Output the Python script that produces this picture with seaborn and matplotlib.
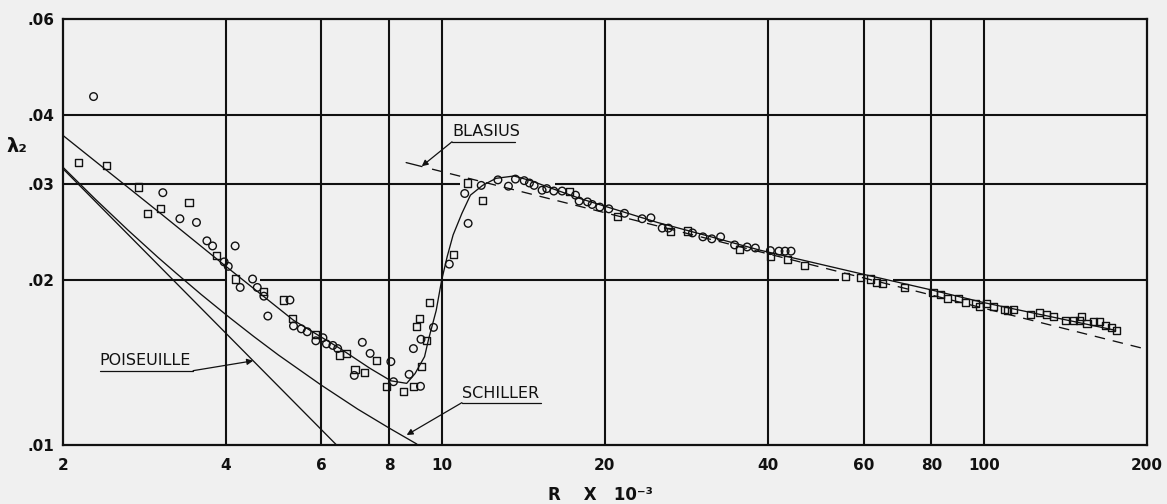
import numpy as np
import pandas as pd
import matplotlib
matplotlib.use("Agg")
import matplotlib.pyplot as plt
import seaborn as sns

# ---- measured friction factors -------------------------------------------
circle_r = [2.28, 3.06, 3.29, 3.53, 3.69, 3.78, 4.16, 3.97, 4.04, 4.25, 4.48,
            4.57, 4.70, 4.78, 5.25, 5.33, 5.51, 5.65, 5.86, 6.04, 6.13, 6.30,
            6.43, 7.14, 6.90, 7.38, 8.06, 8.15, 8.71, 9.14, 8.87, 9.16, 9.66,
            10.33, 11.03, 11.19, 11.83, 12.7, 13.28, 13.68, 14.2, 14.52, 14.81,
            15.32, 15.63, 16.1, 16.68, 17.66, 17.93, 18.58, 18.95, 19.58,
            20.34, 21.74, 23.43, 24.32, 25.52, 26.2, 29.02, 30.33, 31.5, 32.7,
            34.7, 36.6, 37.9, 40.4, 41.9, 43.0, 44.1]
circle_lam = [0.0433, 0.0289, 0.0259, 0.0255, 0.0236, 0.0231, 0.0231, 0.0216,
              0.0212, 0.0194, 0.0201, 0.0194, 0.0187, 0.0172, 0.0184, 0.0165,
              0.0163, 0.0161, 0.0155, 0.0157, 0.0153, 0.0152, 0.0150, 0.0154,
              0.0134, 0.0147, 0.0142, 0.01305, 0.01346, 0.0128, 0.0150,
              0.0156, 0.0164, 0.0214, 0.0288, 0.0254, 0.0298, 0.0305, 0.0297,
              0.0306, 0.0304, 0.0301, 0.0298, 0.0292, 0.0294, 0.0291, 0.0291,
              0.0286, 0.0279, 0.0278, 0.0275, 0.0272, 0.0270, 0.0265, 0.0259,
              0.0260, 0.0249, 0.0249, 0.0244, 0.0240, 0.0238, 0.0240, 0.0232,
              0.0230, 0.0229, 0.02265, 0.0226, 0.0226, 0.0226]

square_r = [2.14, 2.41, 2.76, 2.87, 3.03, 3.42, 3.85, 4.16, 4.69, 5.11, 5.31,
            5.86, 6.48, 6.68, 6.92, 7.22, 7.59, 7.92, 8.52, 8.87, 9.17, 9.36,
            9.0, 9.12, 9.48, 10.51, 11.16, 11.91, 17.2, 21.1, 26.4, 28.46,
            35.4, 40.4, 43.4, 46.7, 55.6, 59.3, 61.7, 63.3, 65.1, 71.3, 80.6,
            83.2, 85.6, 89.7, 92.4, 96.4, 98.2, 101.0, 104.2, 109.0, 110.7,
            113.5, 121.8, 126.7, 130.4, 134.5, 141.5, 146.4, 150.0, 151.7,
            155.0, 159.4, 163.5, 167.7, 171.8, 175.6]
square_lam = [0.0328, 0.0324, 0.0296, 0.0265, 0.0270, 0.0277, 0.0222, 0.0201,
              0.0191, 0.0184, 0.0170, 0.0159, 0.0146, 0.0147, 0.01375,
              0.01355, 0.01425, 0.0128, 0.0125, 0.0128, 0.0139, 0.0155,
              0.01645, 0.0170, 0.0182, 0.0223, 0.0301, 0.0280, 0.0291, 0.0261,
              0.0245, 0.0246, 0.0228, 0.0221, 0.0218, 0.0213, 0.0203, 0.02025,
              0.0201, 0.0198, 0.0197, 0.0194, 0.0190, 0.0188, 0.0185, 0.0185,
              0.0182, 0.0181, 0.0179, 0.0181, 0.0179, 0.0177, 0.0176, 0.0177,
              0.0173, 0.01745, 0.0173, 0.01716, 0.0169, 0.01685, 0.01685,
              0.01716, 0.0167, 0.0168, 0.0168, 0.0165, 0.0164, 0.0162]

# ---- faired curve through the measurements --------------------------------
fair_r = [2.0, 3.0, 4.0, 5.33, 6.5, 7.38, 8.06, 8.62, 8.93, 9.3, 9.46, 9.77,
          10.0, 10.24, 10.5, 10.9, 11.3, 11.9, 12.6, 13.6, 14.6, 16.0, 18.0,
          20.0, 25.0, 30.0, 38.6, 60.0, 80.0, 100.0, 175.0]
fair_lam = [0.0368, 0.0267, 0.0212, 0.0169, 0.0150, 0.0138, 0.0131, 0.01296,
            0.0135, 0.0145, 0.0156, 0.0176, 0.0200, 0.0221, 0.0242, 0.0265,
            0.0286, 0.0298, 0.0307, 0.0310, 0.0304, 0.0294, 0.0282, 0.0273,
            0.0255, 0.0243, 0.0227, 0.0205, 0.0192, 0.0182, 0.0162]

# ---- reference laws --------------------------------------------------------
poiseuille_r = [2.0, 6.4]
poiseuille_lam = [0.032, 0.010]

schiller_r = [2.0, 2.3, 2.64, 3.0, 3.24, 3.6, 4.06, 4.5, 5.0, 6.0, 7.0, 8.0,
              9.0]
schiller_lam = [0.03220, 0.02809, 0.02468, 0.02200, 0.02059, 0.01884,
                0.01710, 0.01579, 0.01460, 0.01286, 0.01163, 0.01074,
                0.01004]

blasius_r = [8.6, 200.0]
blasius_lam = [0.0328, 0.01495]

x_ticks = [2, 4, 6, 8, 10, 20, 40, 60, 80, 100, 200]
x_tick_labels = ["2", "4", "6", "8", "10", "20", "40", "60", "80", "100", "200"]
y_ticks = [0.01, 0.02, 0.03, 0.04, 0.06]
y_tick_labels = [".01", ".02", ".03", ".04", ".06"]

BG = "#f0f0f0"
INK = "#111111"

sns.set_theme(style="white")
plt.rcParams["font.family"] = ["DejaVu Sans"]

W, H = 1167, 504
fig = plt.figure(figsize=(W / 100, H / 100), dpi=100, facecolor=BG)
ax = fig.add_axes([62.7 / W, 1 - 445 / H, (1147 - 62.7) / W, (445 - 19) / H])
ax.set_facecolor(BG)
ax.set_xscale("log")
ax.set_yscale("log")
ax.set_xlim(2, 200)
ax.set_ylim(0.01, 0.06)


def log_interp(x_new, xs, ys):
    return 10 ** np.interp(np.log10(x_new), np.log10(xs), np.log10(ys))


# grid drawn by hand, leaving breaks where the points crowd the rules
grid_kw = dict(color=INK, lw=1.5, zorder=1, solid_capstyle="butt")
h_rules = {0.02: [(4.0, 4.62), (54.0, 68.1)], 0.03: [(10.8, 16.2)], 0.04: []}
v_rules = {4: [], 6: [], 8: [], 10: [], 20: [], 40: [], 60: [], 80: [], 100: []}


def segments(lo, hi, gaps):
    pts = [lo]
    for a, b in gaps:
        pts += [a, b]
    pts.append(hi)
    return [(pts[i], pts[i + 1]) for i in range(0, len(pts), 2)]


for yv, gaps in h_rules.items():
    for a, b in segments(2, 200, gaps):
        ax.plot([a, b], [yv, yv], **grid_kw)
for xv, gaps in v_rules.items():
    for a, b in segments(0.01, 0.06, gaps):
        ax.plot([xv, xv], [a, b], **grid_kw)

line_kw = dict(color=INK, lw=0.95, sort=False, estimator=None, legend=False, ax=ax)

sns.lineplot(x=poiseuille_r, y=poiseuille_lam, **line_kw)
sns.lineplot(x=schiller_r, y=schiller_lam, **line_kw)
sns.lineplot(x=fair_r, y=fair_lam, **line_kw)

# Blasius: short solid stub followed by the dashed law line
stub_r = np.array([blasius_r[0], 9.2])
dash_r = np.geomspace(9.6, blasius_r[1], 50)
sns.lineplot(x=stub_r, y=log_interp(stub_r, blasius_r, blasius_lam), **line_kw)
sns.lineplot(x=dash_r, y=log_interp(dash_r, blasius_r, blasius_lam),
             linestyle=(0, (8, 6)), **line_kw)

pts_c = pd.DataFrame({"R": circle_r, "lam": circle_lam})
pts_s = pd.DataFrame({"R": square_r, "lam": square_lam})
sns.scatterplot(data=pts_c, x="R", y="lam", marker="o", s=30, ax=ax,
                legend=False, zorder=4)
ax.collections[-1].set_facecolor("none")
ax.collections[-1].set_edgecolor(INK)
ax.collections[-1].set_linewidth(1.0)
sns.scatterplot(data=pts_s, x="R", y="lam", marker="s", s=26, ax=ax,
                legend=False, zorder=4)
ax.collections[-1].set_facecolor("none")
ax.collections[-1].set_edgecolor(INK)
ax.collections[-1].set_linewidth(1.0)

# ---- labels with leaders ---------------------------------------------------
lab_kw = dict(fontsize=11.5, color=INK, ha="left", va="baseline")
arrow_kw = dict(arrowstyle="-|>", color=INK, lw=0.9, mutation_scale=9,
                shrinkA=0, shrinkB=0)
u_kw = dict(color=INK, lw=0.9)

ax.text(2.34, 0.01400, "POISEUILLE", **lab_kw)
ax.plot([2.34, 3.48], [0.01367, 0.01367], **u_kw)
ax.annotate("", xy=(4.49, 0.01425), xytext=(3.48, 0.01367), arrowprops=arrow_kw)

ax.text(10.9, 0.01220, "SCHILLER", **lab_kw)
ax.plot([10.9, 15.26], [0.01195, 0.01195], **u_kw)
ax.annotate("", xy=(8.62, 0.01043), xytext=(10.9, 0.01195), arrowprops=arrow_kw)

ax.text(10.45, 0.0367, "BLASIUS", **lab_kw)
ax.plot([10.45, 13.64], [0.0358, 0.0358], **u_kw)
ax.annotate("", xy=(9.19, 0.0323), xytext=(10.45, 0.0358), arrowprops=arrow_kw)

# ---- axes cosmetics --------------------------------------------------------
ax.set_xticks(x_ticks)
ax.set_xticklabels(x_tick_labels)
ax.set_yticks(y_ticks)
ax.set_yticklabels(y_tick_labels)
ax.minorticks_off()
ax.tick_params(axis="both", length=0, labelsize=11, labelcolor=INK)
ax.tick_params(axis="x", pad=9)
ax.tick_params(axis="y", pad=6)
for lbl in ax.get_xticklabels() + ax.get_yticklabels():
    lbl.set_fontweight("bold")
for sp in ax.spines.values():
    sp.set_color(INK)
    sp.set_linewidth(1.6)
ax.set_xlabel("")
ax.set_ylabel("")

fig.text(600 / W, 1 - 495 / H, "R    X   10\u207b\u00b3", ha="center", va="center",
         fontsize=12, fontweight="bold", color=INK)
fig.text(17 / W, 1 - 146 / H, "\u03bb\u2082", ha="center", va="center",
         fontsize=14, fontweight="bold", color=INK)

fig.savefig("out.png", dpi=100, facecolor=BG)
